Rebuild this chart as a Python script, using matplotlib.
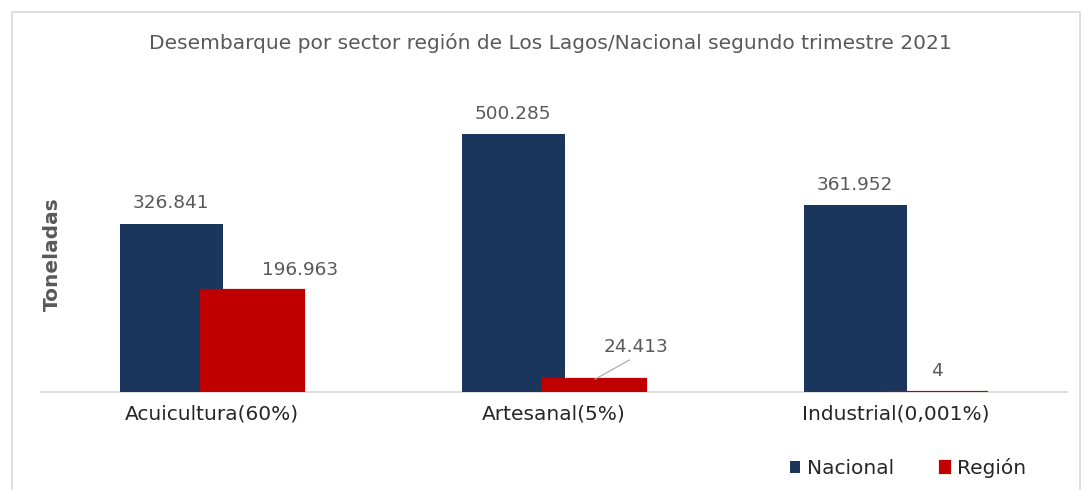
import numpy as np
import matplotlib
matplotlib.use("Agg")
import matplotlib.pyplot as plt
from matplotlib.patches import Rectangle

categories = ["Acuicultura(60%)", "Artesanal(5%)", "Industrial(0,001%)"]
nacional = [326841, 500285, 361952]
region = [196963, 24413, 4]
series_names = ["Nacional", "Región"]

NAVY = "#1b365d"
RED = "#c00000"
GREY = "#595959"

plt.rcParams.update({
    "font.family": "DejaVu Sans",
    "font.size": 11,
})


def fmt(v):
    return f"{v:,.0f}".replace(",", ".")


fig = plt.figure(figsize=(10.85, 4.9), dpi=100)
ax = fig.add_axes([41 / 1085, 98 / 490, 1026 / 1085, (392 - 81.4) / 490])

x = np.arange(len(categories))
w = 0.30
off = 0.119
b1 = ax.bar(x - off, nacional, width=w, color=NAVY, label=series_names[0], zorder=2)
b2 = ax.bar(x + off, region, width=w, color=RED, edgecolor=RED, linewidth=1.6,
            label=series_names[1], zorder=3)

ax.set_xlim(-0.5, 2.5)
ax.set_ylim(0, 602700)
ax.set_yticks([])
for s in ["top", "right", "left"]:
    ax.spines[s].set_visible(False)
ax.spines["bottom"].set_color("#d9d9d9")
ax.spines["bottom"].set_linewidth(1.2)
ax.spines["bottom"].set_zorder(1)
ax.tick_params(axis="x", length=0, pad=9, labelsize=14.5, labelcolor="#262626")
ax.set_xticks(x)
ax.set_xticklabels(categories)

VAL_FS = 13.3
# value labels (offsets in points)
for xi, v in zip(x - off, nacional):
    ax.annotate(fmt(v), (xi, v), xytext=(0, 14.5), textcoords="offset points",
                ha="center", va="center", fontsize=VAL_FS, color=GREY)
reg_offsets = [(34, 15), (29.5, 23), (0, 15)]
for i, (xi, v) in enumerate(zip(x + off, region)):
    dx, dy = reg_offsets[i]
    if i == 1:
        ax.annotate(fmt(v), (xi, v), xytext=(dx, dy), textcoords="offset points",
                    ha="center", va="center", fontsize=VAL_FS, color=GREY,
                    arrowprops=dict(arrowstyle="-", color="#a6a6a6", lw=0.8,
                                    shrinkA=1, shrinkB=0,
                                    relpos=(0.5, 0.0)))
    else:
        ax.annotate(fmt(v), (xi, v), xytext=(dx, dy), textcoords="offset points",
                    ha="center", va="center", fontsize=VAL_FS, color=GREY)

fig.text(550 / 1085, 1 - 43 / 490,
         "Desembarque por sector región de Los Lagos/Nacional segundo trimestre 2021",
         ha="center", va="center", fontsize=14.5, color=GREY)
fig.text(52 / 1085, 1 - 254 / 490, "Toneladas", rotation=90, ha="center",
         va="center", fontsize=14.5, fontweight="bold", color=GREY)

leg = fig.legend(handles=[b1, b2], loc="center", bbox_to_anchor=(908 / 1085, 1 - 468 / 490),
                 ncol=2, frameon=False, fontsize=14.5, handlelength=0.5,
                 handleheight=0.5, handletextpad=0.35, columnspacing=2.3)
for t in leg.get_texts():
    t.set_color("#262626")

fig.patches.append(Rectangle((12 / 1085, -0.05), 1068 / 1085, 1.05 - 12 / 490,
                             transform=fig.transFigure, fill=False,
                             edgecolor="#d9d9d9", linewidth=1.2))

fig.savefig("out.png", dpi=100)
